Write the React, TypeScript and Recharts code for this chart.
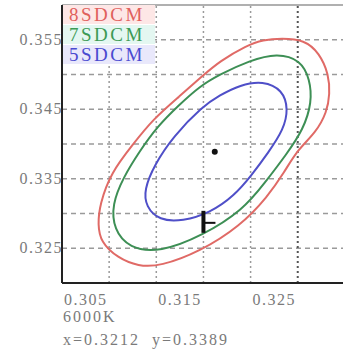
import { ComposedChart, Line, Scatter, XAxis, YAxis, ReferenceLine } from "recharts";

// tick positions and labels
const xTicks = [0.305, 0.31, 0.315, 0.32, 0.325, 0.33];
const xLabels = ["0.305", "0.315", "0.325"];
const yTicks = [0.325, 0.33, 0.335, 0.34, 0.345, 0.35, 0.355];
const yLabels = ["0.325", "0.335", "0.345", "0.355"];

// ellipse outlines (x, y chromaticity)
const ellipse8 = [
  { x: 0.3146, y: 0.3435 }, { x: 0.3175, y: 0.3469 }, { x: 0.3199, y: 0.3498 },
  { x: 0.3217, y: 0.3519 }, { x: 0.3246, y: 0.3542 }, { x: 0.3263, y: 0.3550 },
  { x: 0.3283, y: 0.3552 }, { x: 0.3307, y: 0.3550 }, { x: 0.3323, y: 0.3531 },
  { x: 0.3333, y: 0.3500 }, { x: 0.3334, y: 0.3472 }, { x: 0.3331, y: 0.3446 },
  { x: 0.3319, y: 0.3416 }, { x: 0.3300, y: 0.3392 }, { x: 0.3286, y: 0.3360 },
  { x: 0.3268, y: 0.3324 }, { x: 0.3239, y: 0.3282 }, { x: 0.3196, y: 0.3245 },
  { x: 0.3154, y: 0.3224 }, { x: 0.3131, y: 0.3224 }, { x: 0.3109, y: 0.3236 },
  { x: 0.3091, y: 0.3259 }, { x: 0.3088, y: 0.3284 }, { x: 0.3090, y: 0.3313 },
  { x: 0.3102, y: 0.3359 }, { x: 0.3125, y: 0.3399 },
];
const ellipse7 = [
  { x: 0.3151, y: 0.3425 }, { x: 0.3174, y: 0.3456 }, { x: 0.3196, y: 0.3483 },
  { x: 0.3217, y: 0.3500 }, { x: 0.3249, y: 0.3520 }, { x: 0.3278, y: 0.3531 },
  { x: 0.3303, y: 0.3521 }, { x: 0.3313, y: 0.3493 }, { x: 0.3315, y: 0.3460 },
  { x: 0.3306, y: 0.3421 }, { x: 0.3288, y: 0.3385 }, { x: 0.3265, y: 0.3344 },
  { x: 0.3242, y: 0.3305 }, { x: 0.3199, y: 0.3268 }, { x: 0.3154, y: 0.3244 },
  { x: 0.3121, y: 0.3250 }, { x: 0.3105, y: 0.3277 }, { x: 0.3103, y: 0.3313 },
  { x: 0.3115, y: 0.3352 }, { x: 0.3132, y: 0.3389 },
];
const ellipse5 = [
  { x: 0.3168, y: 0.3411 }, { x: 0.3199, y: 0.3454 }, { x: 0.3217, y: 0.3470 },
  { x: 0.3239, y: 0.3485 }, { x: 0.3263, y: 0.3491 }, { x: 0.3284, y: 0.3478 },
  { x: 0.3290, y: 0.3450 }, { x: 0.3285, y: 0.3421 }, { x: 0.3269, y: 0.3388 },
  { x: 0.3251, y: 0.3355 }, { x: 0.3233, y: 0.3326 }, { x: 0.3207, y: 0.3301 },
  { x: 0.3178, y: 0.3289 }, { x: 0.3153, y: 0.3290 }, { x: 0.3139, y: 0.3310 },
  { x: 0.3137, y: 0.3334 }, { x: 0.3148, y: 0.3370 },
];
const centerPoint = [{ x: 0.3212, y: 0.3389 }];
const markPoint = [{ x: 0.32, y: 0.3288 }];

const legendRows = [
  { name: "8SDCM", color: "#e0605c", bg: "#fde7e6" },
  { name: "7SDCM", color: "#3c9a55", bg: "#e4f7f1" },
  { name: "5SDCM", color: "#4a4ad0", bg: "#e9e8fb" },
];

const serif = "'Liberation Serif', 'DejaVu Serif', serif";
const labelStyle = { fill: "#7a7a7a", fontSize: 16, letterSpacing: 1.5, fontFamily: serif };

function XTick({ x, y, payload }: any) {
  const txt = payload.value.toFixed(3);
  if (!xLabels.includes(txt)) return null;
  return (
    <text x={x + 2} y={y + 14} textAnchor="start" {...labelStyle}>
      {txt}
    </text>
  );
}

function YTick({ x, y, payload }: any) {
  const txt = payload.value.toFixed(3);
  if (!yLabels.includes(txt)) return null;
  return (
    <text x={x + 9} y={y + 5} textAnchor="end" {...labelStyle}>
      {txt}
    </text>
  );
}

function Mark({ cx, cy }: any) {
  return (
    <g fill="#111">
      <rect x={cx - 2} y={cy - 11} width={4} height={22} />
      <rect x={cx} y={cy} width={12} height={2} />
    </g>
  );
}

export default function App() {
  return (
    <div style={{ position: "absolute", left: 0, top: 0, width: 343, height: 356, fontFamily: serif, background: "#fff" }}>
      <ComposedChart width={343} height={356} margin={{ top: 5, right: 0, bottom: 53, left: 0 }}>
        <XAxis
          type="number"
          dataKey="x"
          domain={[0.305, 0.3348]}
          allowDataOverflow
          ticks={xTicks}
          tick={<XTick />}
          tickLine={false}
          height={20}
          axisLine={{ stroke: "#222", strokeWidth: 2 }}
        />
        <YAxis
          type="number"
          dataKey="y"
          domain={[0.32, 0.36]}
          allowDataOverflow
          ticks={yTicks}
          tick={<YTick />}
          tickLine={false}
          width={62}
          axisLine={{ stroke: "#222", strokeWidth: 2 }}
        />
        {yTicks.map((v) => (
          <ReferenceLine key={"h" + v} y={v} stroke="#9a9a9a" strokeWidth={1.5} strokeDasharray="5 4" />
        ))}
        {xTicks.slice(1).map((v) => (
          <ReferenceLine
            key={"v" + v}
            x={v}
            stroke={v === 0.33 ? "#555" : "#9a9a9a"}
            strokeWidth={v === 0.33 ? 2 : 1.5}
            strokeDasharray="2 3"
          />
        ))}
        <ReferenceLine y={0.36} stroke="#b0b0b0" strokeWidth={2} />
        <Line data={ellipse8} dataKey="y" type="basisClosed" stroke="#e06a66" strokeWidth={2} dot={false} isAnimationActive={false} />
        <Line data={ellipse7} dataKey="y" type="basisClosed" stroke="#3d8f55" strokeWidth={2} dot={false} isAnimationActive={false} />
        <Line data={ellipse5} dataKey="y" type="basisClosed" stroke="#4f4fc8" strokeWidth={2} dot={false} isAnimationActive={false} />
        <Scatter data={centerPoint} dataKey="y" fill="#111" shape={(p: any) => <circle cx={p.cx} cy={p.cy} r={3} fill="#111" />} isAnimationActive={false} />
        <Scatter data={markPoint} dataKey="y" fill="#111" shape={<Mark />} isAnimationActive={false} />
      </ComposedChart>
      <div style={{ position: "absolute", left: 63, top: 5, width: 92 }}>
        {legendRows.map((r) => (
          <div
            key={r.name}
            style={{ background: r.bg, color: r.color, fontSize: 19, lineHeight: "19px", height: 19, marginBottom: 1, paddingLeft: 6, letterSpacing: 2.5 }}
          >
            {r.name}
          </div>
        ))}
      </div>
      <div style={{ position: "absolute", left: 63, top: 308, fontSize: 16, lineHeight: "18px", color: "#7a7a7a", letterSpacing: 2 }}>
        6000K
      </div>
      <div style={{ position: "absolute", left: 63, top: 331, fontSize: 16, lineHeight: "18px", color: "#7a7a7a", letterSpacing: 2, whiteSpace: "pre" }}>
        {"x=0.3212  y=0.3389"}
      </div>
    </div>
  );
}
